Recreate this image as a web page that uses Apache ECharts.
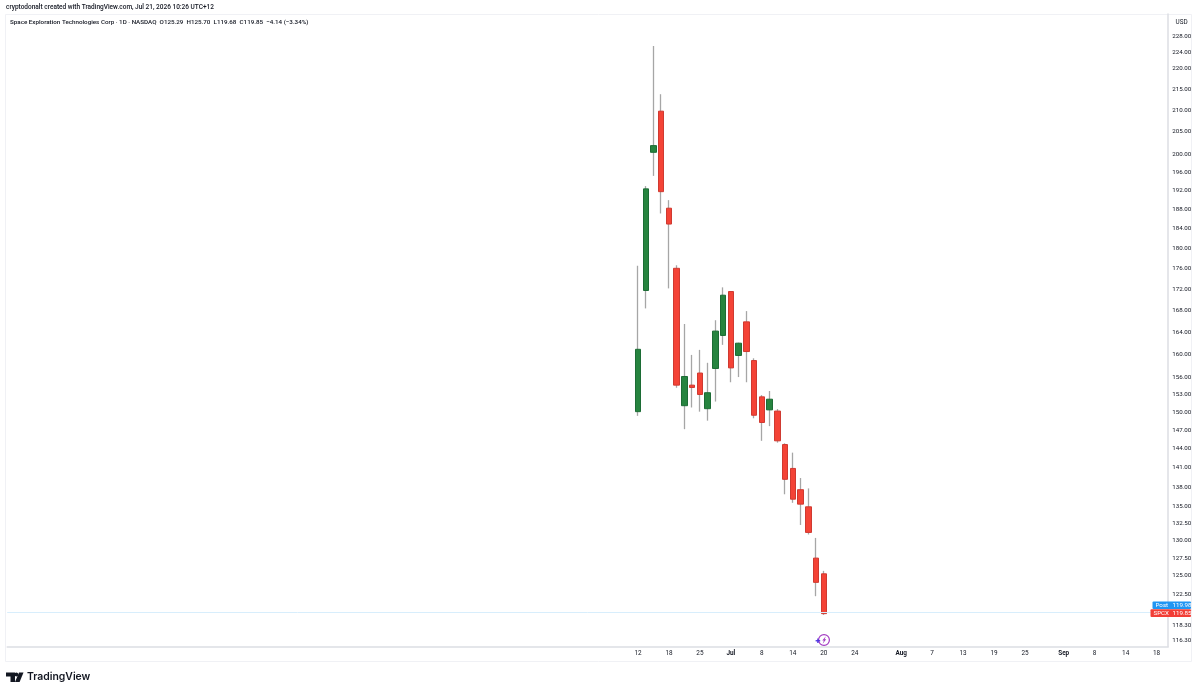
<!DOCTYPE html>
<html><head><meta charset="utf-8">
<style>html,body{margin:0;padding:0;background:#fff}#c{width:1200px;height:693px}</style>
<script src="https://cdn.jsdelivr.net/npm/echarts@6/dist/echarts.min.js"></script>
</head><body><div id="c"></div>
<script>
const tradingDates = ['06-12','06-15','06-16','06-17','06-18','06-22','06-23','06-24','06-25','06-26','06-29','06-30','07-01','07-02','07-06','07-07','07-08','07-09','07-10','07-13','07-14','07-15','07-16','07-17','07-20','07-21','07-22','07-23','07-24','07-27','07-28','07-29','07-30','07-31','08-03','08-04','08-05','08-06','08-07','08-10','08-11','08-12','08-13','08-14','08-17','08-18','08-19','08-20','08-21','08-24','08-25','08-26','08-27','08-28','08-31','09-01','09-02','09-03','09-04','09-08','09-09','09-10','09-11','09-14','09-15','09-16','09-17','09-18','09-21'];
const opens  = [150.1,171.8,200.4,209.8,188.3,176.1,151.1,154.6,156.7,150.6,157.5,163.4,171.6,159.8,165.9,158.9,152.6,150.4,150.2,144.7,140.9,137.6,135.0,127.5,125.29];
const closes = [160.9,192.4,201.9,191.8,185.0,154.6,156.1,154.2,153.0,153.3,164.2,170.9,157.6,162.0,160.5,149.5,148.3,152.2,145.3,139.2,136.15,135.4,131.2,124.1,119.85];
const lows   = [149.4,168.4,195.2,187.2,172.2,154.15,147.2,150.8,150.1,148.6,151.8,161.7,155.1,156.0,155.1,149.0,145.3,147.7,145.0,136.9,135.6,132.3,130.9,122.2,119.68];
const highs  = [176.6,193.0,225.6,213.8,190.0,176.7,165.5,159.9,160.8,158.5,166.2,172.4,171.7,162.1,167.9,159.3,152.9,153.6,150.55,144.9,143.4,139.4,137.8,130.4,125.70];
const priceTicks = [228,224,220,215,210,205,200,196,192,188,184,180,176,172,168,164,160,156,153,150,147,144,141,138,135,132.5,130,127.5,125,122.5,118.3,116.3];
const dateLabels = {'06-12':'12','06-18':'18','06-25':'25','07-01':'Jul','07-08':'8','07-14':'14','07-20':'20','07-24':'24','08-03':'Aug','08-07':'7','08-13':'13','08-19':'19','08-25':'25','09-01':'Sep','09-08':'8','09-14':'14','09-18':'18'};
const monthLabels = ['Jul','Aug','Sep'];
const leadingEmptyBars = 81;
const postPrice = 119.98, lastPrice = 119.85;
const headerLine1 = 'cryptodonalt created with TradingView.com, Jul 21, 2026 10:26 UTC+12';
const headerLine2 = 'Space Exploration Technologies Corp · 1D · NASDAQ  O125.29  H125.70  L119.68  C119.85  −4.14 (−3.34%)';

const FONT = 'Roboto, "Noto Sans", sans-serif';
const TEXT = '#131722';
const pad = Array.from({length: leadingEmptyBars}, (_, i) => 'p' + i);
const cats = pad.concat(tradingDates);
const blank = pad.map(() => [null, null, null, null]);
const wickData = blank.concat(opens.map((o, i) => [o, closes[i], lows[i], highs[i]]));
const bodyData = blank.concat(opens.map((o, i) => [o, closes[i], Math.min(o, closes[i]), Math.max(o, closes[i])]));

const chart = echarts.init(document.getElementById('c'), null, {renderer: 'canvas'});
const tag = (x, y, w, h, color, name, val) => ([
  {type:'rect', z:100, shape:{x, y, width:w, height:h, r:1}, style:{fill:color}},
  {type:'text', z:101, x:x+3, y:y+h/2, style:{text:name, fill:'#fff', font:'6.2px '+FONT, textVerticalAlign:'middle'}},
  {type:'text', z:101, x:1172.5, y:y+h/2, style:{text:val.toFixed(2), fill:'#fff', font:'6.2px '+FONT, textVerticalAlign:'middle'}}
]);
chart.setOption({
  animation: false,
  backgroundColor: '#fff',
  grid: {left: 7.2, right: 31.8, top: 14, bottom: 46.5, containLabel: false},
  xAxis: {
    type: 'category', data: cats, boundaryGap: true,
    axisLine: {show: true, onZero: false, lineStyle: {color: '#dcdee3', width: 1.5}},
    axisTick: {show: false}, splitLine: {show: false},
    axisLabel: {
      show: true, margin: 4, hideOverlap: false,
      interval: (i, v) => !!dateLabels[v],
      formatter: v => monthLabels.includes(dateLabels[v]) ? '{b|' + dateLabels[v] + '}' : (dateLabels[v] || ''),
      fontFamily: FONT, fontSize: 6.4, color: TEXT,
      rich: {b: {fontFamily: FONT, fontSize: 6.4, fontWeight: 'bold', color: TEXT}}
    }
  },
  yAxis: {
    type: 'log', logBase: 10, position: 'right', min: 115.54, max: 233.79, scale: true,
    axisLine: {show: true, onZero: false, lineStyle: {color: '#dcdee3', width: 1.5}},
    axisTick: {show: false}, splitLine: {show: false}, minorTick: {show: false}, minorSplitLine: {show: false},
    axisLabel: {
      show: true, margin: 4, customValues: priceTicks, showMinLabel: true, showMaxLabel: true,
      padding: [2, 0, 0, 0],
      formatter: v => Number(v).toFixed(2), fontFamily: FONT, fontSize: 6.2, color: TEXT
    }
  },
  series: [
    {
      type: 'candlestick', name: 'wicks', data: wickData, barWidth: 1, silent: true, z: 2,
      itemStyle: {color: '#a6a6a6', color0: '#a6a6a6', borderColor: '#a6a6a6', borderColor0: '#a6a6a6', borderWidth: 1.3},
      markLine: {
        silent: true, symbol: 'none', label: {show: false}, animation: false,
        lineStyle: {color: '#d8eefc', width: 1, type: 'solid'},
        data: [{yAxis: postPrice}]
      }
    },
    {
      type: 'candlestick', name: 'bodies', data: bodyData, barWidth: 6, silent: true, z: 3,
      itemStyle: {color: '#26843f', color0: '#f44336', borderColor: '#1c6c35', borderColor0: '#cf3a31', borderWidth: 1}
    }
  ],
  graphic: [
    {type:'rect', z:0, shape:{x:5.5, y:14.5, width:1186, height:647}, style:{fill:'none', stroke:'#f0f1f5', lineWidth:1}},
    {type:'text', x:6, y:7, style:{text:headerLine1, fill:TEXT, font:'500 6.5px '+FONT, textVerticalAlign:'middle'}},
    {type:'text', x:10, y:22, style:{text:headerLine2, fill:TEXT, font:'500 6.25px '+FONT, textVerticalAlign:'middle'}},
    {type:'text', x:1175.5, y:22, style:{text:'USD', fill:TEXT, font:'6.4px '+FONT, textVerticalAlign:'middle'}},
    ...tag(1152.5, 601.5, 38.5, 7.6, '#2196f3', 'Post', postPrice),
    ...tag(1150.5, 609.3, 40.5, 7.8, '#f23e36', 'SPCX', lastPrice),
    {type:'circle', z:50, shape:{cx:824, cy:640, r:5.4}, style:{fill:'#fff', stroke:'#a33bc2', lineWidth:1.2}},
    {type:'polygon', z:51, shape:{points:[[825.8,636.3],[822.3,640.6],[823.9,640.6],[822.7,643.7],[826.2,639.2],[824.6,639.2]]}, style:{fill:'#a33bc2'}},
    {type:'rect', z:52, shape:{x:815.6, y:640.1, width:4.6, height:1.3}, style:{fill:'#4a2fe0'}},
    {type:'rect', z:52, shape:{x:817.25, y:638.5, width:1.3, height:4.6}, style:{fill:'#4a2fe0'}},
    {type:'polygon', shape:{points:[[6,672.5],[15,672.5],[15,682],[10.5,682],[10.5,676.5],[6,676.5]]}, style:{fill:'#131722'}},
    {type:'circle', shape:{cx:16.4, cy:674.5, r:1.9}, style:{fill:'#131722'}},
    {type:'polygon', shape:{points:[[19,672.5],[23.5,672.5],[19.6,682],[15,682]]}, style:{fill:'#131722'}},
    {type:'text', x:27, y:677.3, style:{text:'TradingView', fill:'#131722', font:'600 10.4px Inter, '+FONT, textVerticalAlign:'middle'}}
  ]
});
</script></body></html>
